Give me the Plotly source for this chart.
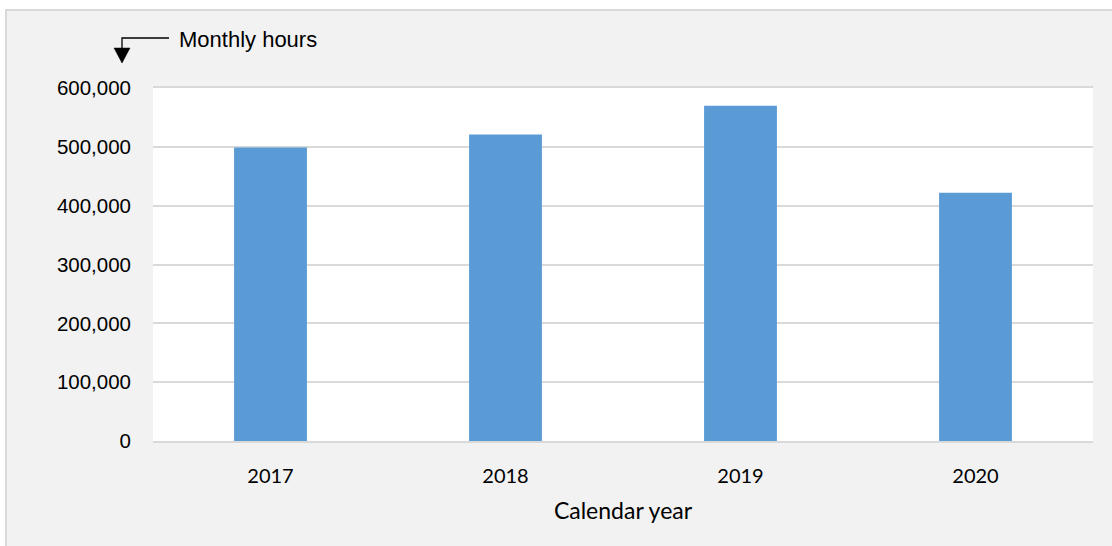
import plotly.graph_objects as go

years = ["2017", "2018", "2019", "2020"]
hours = [499000, 521000, 570000, 422000]
y_ticks = [0, 100000, 200000, 300000, 400000, 500000, 600000]
y_tick_text = ["0", "100,000", "200,000", "300,000", "400,000", "500,000", "600,000"]

W, H = 1112, 546
ML, MR, MT, MB = 153, 19, 88, 105
PW = W - ML - MR
PH = H - MT - MB


def px(x):
    return (x - ML) / PW


def py(y):
    return (H - MB - y) / PH


fig = go.Figure()
fig.add_trace(go.Bar(
    x=years, y=hours,
    marker=dict(color="#5b9bd5", line=dict(width=0)),
    width=0.31,
))

fig.update_layout(
    width=W, height=H,
    margin=dict(l=ML, r=MR, t=MT, b=MB, pad=0),
    paper_bgcolor="white",
    plot_bgcolor="white",
    showlegend=False,
    font=dict(family="Liberation Sans, Arial", color="#000000"),
    xaxis=dict(
        showgrid=False,
        showline=True, mirror=True, linecolor="#d9d9d9", linewidth=2,
        tickfont=dict(family="Lato", size=20, color="#000000"),
        ticks="", ticklabelstandoff=16,
        title=dict(text="Calendar year", font=dict(family="Lato", size=23, color="#000000"), standoff=17),
    ),
    yaxis=dict(
        range=[0, 600000],
        tickvals=y_ticks, ticktext=y_tick_text,
        showgrid=True, gridcolor="#d9d9d9", gridwidth=2,
        zeroline=False, showline=False,
        tickfont=dict(family="Liberation Sans, Arial", size=20.5, color="#000000"),
        ticks="", ticklabelstandoff=21,
    ),
    shapes=[
        dict(type="rect", xref="paper", yref="paper",
             x0=px(6), x1=px(W + 5), y0=py(H + 5), y1=py(10),
             fillcolor="#f2f2f2", line=dict(color="#d9d9d9", width=2), layer="below"),
        dict(type="rect", xref="paper", yref="paper",
             x0=0, x1=1, y0=0, y1=1,
             fillcolor="white", line=dict(width=0), layer="below"),
        dict(type="path", xref="paper", yref="paper",
             path=f"M {px(169)} {py(38)} L {px(122)} {py(38)} L {px(122)} {py(50)}",
             line=dict(color="#000000", width=1.3), layer="above"),
        dict(type="path", xref="paper", yref="paper",
             path=f"M {px(114)} {py(48)} L {px(130)} {py(48)} L {px(122)} {py(63)} Z",
             fillcolor="#000000", line=dict(color="#000000", width=0.5), layer="above"),
    ],
    annotations=[
        dict(text="Monthly hours", xref="paper", yref="paper",
             x=px(177), y=py(39), xanchor="left", yanchor="middle",
             showarrow=False, font=dict(family="Liberation Sans, Arial", size=22, color="#000000")),
    ],
)

fig.write_html("out.html")
